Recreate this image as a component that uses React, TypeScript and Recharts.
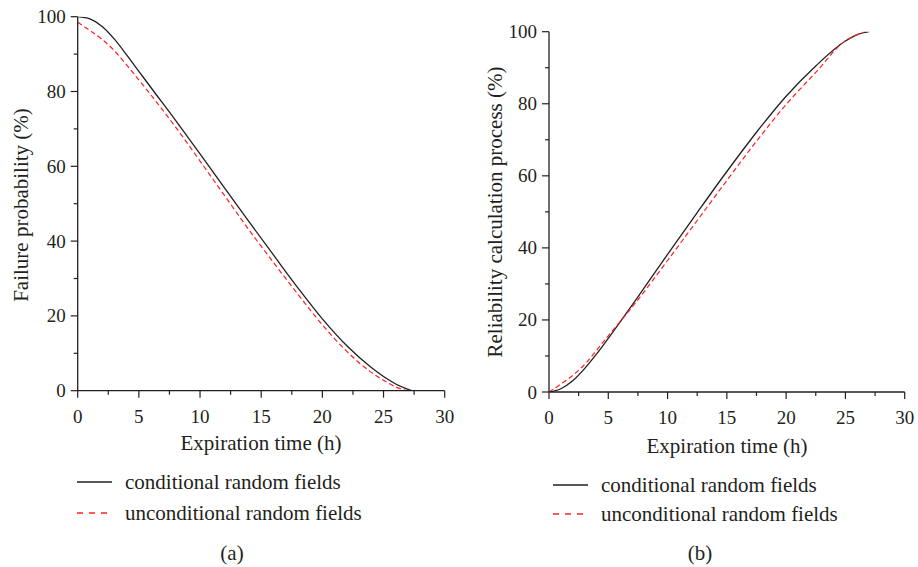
import { LineChart, Line, XAxis, YAxis } from "recharts"

const FONT = "'Liberation Serif', 'Times New Roman', serif"
const INK = "#231f20"
const RED = "#ff2020"

// tick labels
const xLabels = [0, 5, 10, 15, 20, 25, 30]
const yLabels = [0, 20, 40, 60, 80, 100]
const xTicks = [0, 2.5, 5, 7.5, 10, 12.5, 15, 17.5, 20, 22.5, 25, 27.5, 30]
const yTicks = [0, 10, 20, 30, 40, 50, 60, 70, 80, 90, 100]

// (a) failure probability
const failTimeCond = [0, 1, 2, 3, 4, 5, 6, 8, 10, 12, 14, 16, 18, 20, 22, 24, 25, 26, 27.3]
const failCond = [100, 99.4, 97.4, 94.0, 89.8, 85.4, 81.0, 72.3, 63.3, 54.2, 45.2, 36.3, 27.5, 19.2, 12.0, 6.2, 3.8, 1.8, 0]
const failTimeUncond = [0, 1, 2, 3, 4, 5, 6, 8, 10, 12, 14, 16, 18, 20, 22, 24, 25, 26, 26.9]
const failUncond = [98.5, 96.3, 93.9, 90.9, 87.1, 83.1, 79.0, 70.5, 61.4, 52.2, 43.0, 34.3, 25.8, 17.6, 10.5, 4.9, 2.8, 1.0, 0]

// (b) reliability calculation process
const relTimeCond = [0, 1, 2, 3, 4, 5, 7.5, 10, 12.5, 15, 17.5, 20, 22.5, 25, 26, 27]
const relCond = [0, 0.9, 3.1, 6.5, 10.5, 14.9, 26.4, 38.2, 49.8, 61.2, 72.1, 82.1, 90.5, 97.4, 99.2, 100]
const relTimeUncond = [0, 1, 2.5, 5, 7.5, 10, 12.5, 15, 17.5, 20, 22.5, 25, 26, 27]
const relUncond = [0, 2.2, 6.0, 15.6, 25.6, 36.5, 47.6, 58.7, 69.6, 79.8, 88.7, 97.5, 99.2, 100.4]

const seriesNames = ["conditional random fields", "unconditional random fields"]

const rows = (ts: number[], vs: number[]) => ts.map((t, i) => ({ t, v: vs[i] }))

function XTick(props: any) {
  const { x, y, payload } = props
  const major = xLabels.includes(payload.value)
  return (
    <g>
      <line x1={x} y1={y} x2={x} y2={y + (major ? 7 : 4)} stroke={INK} strokeWidth={1.2} />
      {major && (
        <text x={x} y={y + 32} textAnchor="middle" fontFamily={FONT} fontSize={19} fill={INK}>
          {payload.value}
        </text>
      )}
    </g>
  )
}

function YTick(props: any) {
  const { x, y, payload } = props
  const major = yLabels.includes(payload.value)
  return (
    <g>
      <line x1={x} y1={y} x2={x - (major ? 7 : 4)} y2={y} stroke={INK} strokeWidth={1.2} />
      {major && (
        <text x={x - 12} y={y + 6.5} textAnchor="end" fontFamily={FONT} fontSize={19} fill={INK}>
          {payload.value}
        </text>
      )}
    </g>
  )
}

function Panel(props: {
  width: number
  height: number
  margin: { top: number; right: number; left: number; bottom: number }
  cond: { t: number; v: number }[]
  uncond: { t: number; v: number }[]
}) {
  const { width, height, margin, cond, uncond } = props
  return (
    <LineChart width={width} height={height} margin={margin}>
      <XAxis
        dataKey="t"
        type="number"
        domain={[0, 30]}
        ticks={xTicks}
        interval={0}
        allowDataOverflow
        height={39}
        tickSize={0}
        tickMargin={0}
        tickLine={false}
        axisLine={{ stroke: INK, strokeWidth: 1.3 }}
        tick={<XTick />}
      />
      <YAxis
        type="number"
        domain={[0, 100]}
        ticks={yTicks}
        interval={0}
        allowDataOverflow
        width={60}
        tickSize={0}
        tickMargin={0}
        tickLine={false}
        axisLine={{ stroke: INK, strokeWidth: 1.3 }}
        tick={<YTick />}
      />
      <Line data={cond} dataKey="v" type="monotone" stroke={INK} strokeWidth={1.3} dot={false} isAnimationActive={false} />
      <Line
        data={uncond}
        dataKey="v"
        type="monotone"
        stroke={RED}
        strokeWidth={1.2}
        strokeDasharray="5 3"
        dot={false}
        isAnimationActive={false}
      />
    </LineChart>
  )
}

function LegendBlock({ x, y1, y2 }: { x: number; y1: number; y2: number }) {
  return (
    <g>
      <line x1={x} y1={y1} x2={x + 35} y2={y1} stroke={INK} strokeWidth={1.3} />
      <text x={x + 48} y={y1} dominantBaseline="central" fontFamily={FONT} fontSize={21} fill={INK}>
        {seriesNames[0]}
      </text>
      <line x1={x} y1={y2} x2={x + 35} y2={y2} stroke={RED} strokeWidth={1.3} strokeDasharray="6 6" />
      <text x={x + 48} y={y2} dominantBaseline="central" fontFamily={FONT} fontSize={21} fill={INK}>
        {seriesNames[1]}
      </text>
    </g>
  )
}

export default function App() {
  return (
    <div style={{ position: "absolute", left: 0, top: 0, width: 918, height: 567, background: "#fff" }}>
      <div style={{ position: "absolute", left: 0, top: 0 }}>
        <Panel
          width={460}
          height={430}
          margin={{ top: 16.7, right: 15.3, left: 17.7, bottom: 0.3 }}
          cond={rows(failTimeCond, failCond)}
          uncond={rows(failTimeUncond, failUncond)}
        />
      </div>
      <div style={{ position: "absolute", left: 460, top: 0 }}>
        <Panel
          width={458}
          height={431}
          margin={{ top: 31.7, right: 13.3, left: 29, bottom: 0 }}
          cond={rows(relTimeCond, relCond)}
          uncond={rows(relTimeUncond, relUncond)}
        />
      </div>
      <svg width={918} height={567} style={{ position: "absolute", left: 0, top: 0, pointerEvents: "none" }}>
        <text
          x={0}
          y={0}
          transform="translate(21,205) rotate(-90)"
          textAnchor="middle"
          dominantBaseline="central"
          fontFamily={FONT}
          fontSize={21}
          fill={INK}
        >
          Failure probability (%)
        </text>
        <text
          x={0}
          y={0}
          transform="translate(495,212) rotate(-90)"
          textAnchor="middle"
          dominantBaseline="central"
          fontFamily={FONT}
          fontSize={21}
          fill={INK}
        >
          Reliability calculation process (%)
        </text>
        <text x={261} y={443} textAnchor="middle" dominantBaseline="central" fontFamily={FONT} fontSize={21} fill={INK}>
          Expiration time (h)
        </text>
        <text x={727} y={446} textAnchor="middle" dominantBaseline="central" fontFamily={FONT} fontSize={21} fill={INK}>
          Expiration time (h)
        </text>
        <LegendBlock x={77} y1={482} y2={513} />
        <LegendBlock x={553} y1={485} y2={514} />
        <text x={232} y={553} textAnchor="middle" dominantBaseline="central" fontFamily={FONT} fontSize={21} fill={INK}>
          (a)
        </text>
        <text x={700} y={553} textAnchor="middle" dominantBaseline="central" fontFamily={FONT} fontSize={21} fill={INK}>
          (b)
        </text>
      </svg>
    </div>
  )
}
